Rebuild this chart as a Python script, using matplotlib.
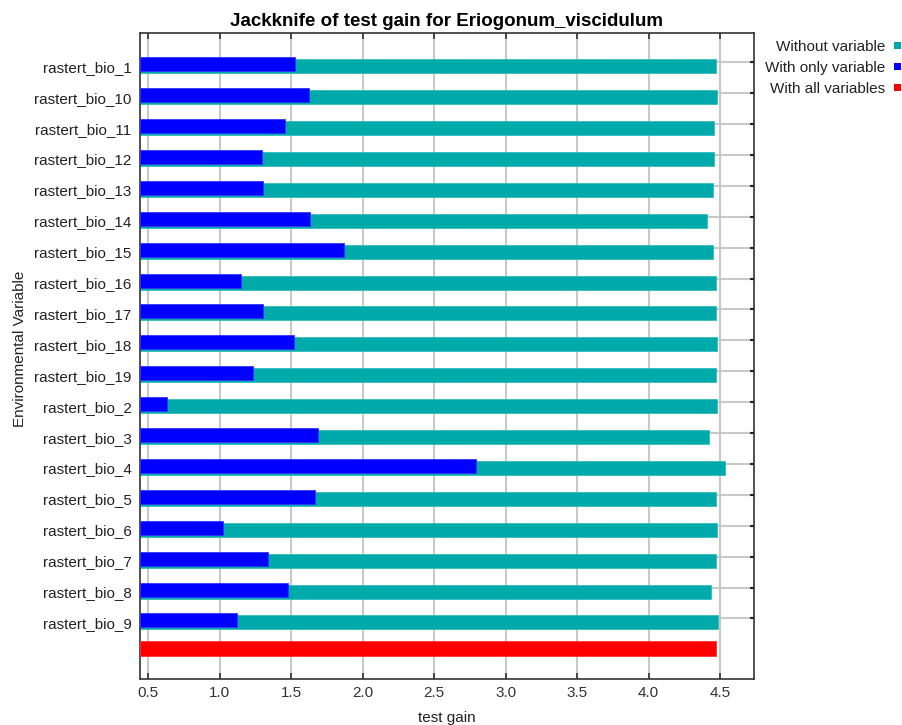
import matplotlib
matplotlib.use("Agg")
import matplotlib.pyplot as plt
from matplotlib.patches import Rectangle
import numpy as np

plt.rcParams['font.family'] = ['Liberation Sans', 'DejaVu Sans']

categories = ["rastert_bio_1", "rastert_bio_10", "rastert_bio_11", "rastert_bio_12",
              "rastert_bio_13", "rastert_bio_14", "rastert_bio_15", "rastert_bio_16",
              "rastert_bio_17", "rastert_bio_18", "rastert_bio_19", "rastert_bio_2",
              "rastert_bio_3", "rastert_bio_4", "rastert_bio_5", "rastert_bio_6",
              "rastert_bio_7", "rastert_bio_8", "rastert_bio_9"]
without_variable = [4.470, 4.480, 4.459, 4.459, 4.452, 4.408, 4.452, 4.470, 4.470,
                    4.480, 4.470, 4.480, 4.426, 4.536, 4.473, 4.480, 4.473, 4.436, 4.489]
with_only_variable = [1.529, 1.622, 1.457, 1.294, 1.303, 1.629, 1.867, 1.146, 1.303,
                      1.522, 1.231, 0.629, 1.685, 2.795, 1.667, 1.021, 1.338, 1.476, 1.121]
with_all_variables = 4.473
x_ticks = [0.5, 1.0, 1.5, 2.0, 2.5, 3.0, 3.5, 4.0, 4.5]

teal = '#00aaaa'
blue = '#0000ff'
red = '#ff0000'
xmin, xmax = 0.442, 4.738
fs = 11

fig = plt.figure(figsize=(9.02, 7.25), dpi=100)
ax = fig.add_axes([140/902, 1 - 678.7/725, (754 - 140)/902, (678.7 - 32.7)/725])

n = len(categories)
rows = np.arange(n)
grid_pos = rows - 0.13

# gridlines
for gx in x_ticks:
    ax.axvline(gx, color='#c8c8c8', lw=1.5, zorder=0)
for gy in grid_pos:
    ax.axhline(gy, color='#c8c8c8', lw=1.5, zorder=0)

ax.barh(rows, np.array(without_variable) - xmin, left=xmin, height=0.453,
        color=teal, edgecolor='#33bbbb', linewidth=0.6, zorder=2)
ax.barh(rows - 0.065, np.array(with_only_variable) - xmin, left=xmin, height=0.453,
        color=blue, edgecolor='#3333ff', linewidth=0.6, zorder=3)
ax.barh([n - 0.165], [with_all_variables - xmin], left=xmin, height=0.475,
        color=red, edgecolor='#ff3333', linewidth=0.6, zorder=3)

ax.set_xlim(xmin, xmax)
ax.set_ylim(19.82, -1.087)

ax.set_xticks(x_ticks)
ax.set_xticklabels([f"{t:.1f}" for t in x_ticks], fontsize=fs, color='#333333')
ax.tick_params(axis='x', direction='in', length=4, width=1.2, top=True, bottom=True,
               pad=5, color='#333333')

ax.set_yticks(rows)
ax.set_yticklabels(categories, fontsize=fs, color='#222222')
ax.tick_params(axis='y', length=0, pad=6)

# right-side inward ticks at the gridlines
for gy in grid_pos:
    ax.plot([xmax - 0.03, xmax], [gy, gy], color='#222222', lw=1.5, zorder=5,
            clip_on=False, solid_capstyle='butt')

for s in ax.spines.values():
    s.set_color('#333333')
    s.set_linewidth(1.2)

ax.set_title("Jackknife of test gain for Eriogonum_viscidulum", fontsize=13.5,
             fontweight='bold', pad=5)
ax.set_xlabel("test gain", fontsize=fs, labelpad=8, color='#222222')
fig.text(20/902, 1 - 349/725, "Environmental Variable", rotation=90, fontsize=fs,
         ha='center', va='center', color='#222222')

# legend
legend_items = [("Without variable", teal, 47), ("With only variable", blue, 68),
                ("With all variables", red, 89)]
for label, col, ypx in legend_items:
    fig.text(885/902, 1 - ypx/725, label, fontsize=fs, ha='right', va='center',
             color='#222222')
    fig.patches.append(Rectangle(((894) / 902, 1 - (ypx + 2) / 725), 7 / 902, 7 / 725,
                                 transform=fig.transFigure, facecolor=col,
                                 edgecolor='none', figure=fig))

fig.savefig("out.png", dpi=100)
